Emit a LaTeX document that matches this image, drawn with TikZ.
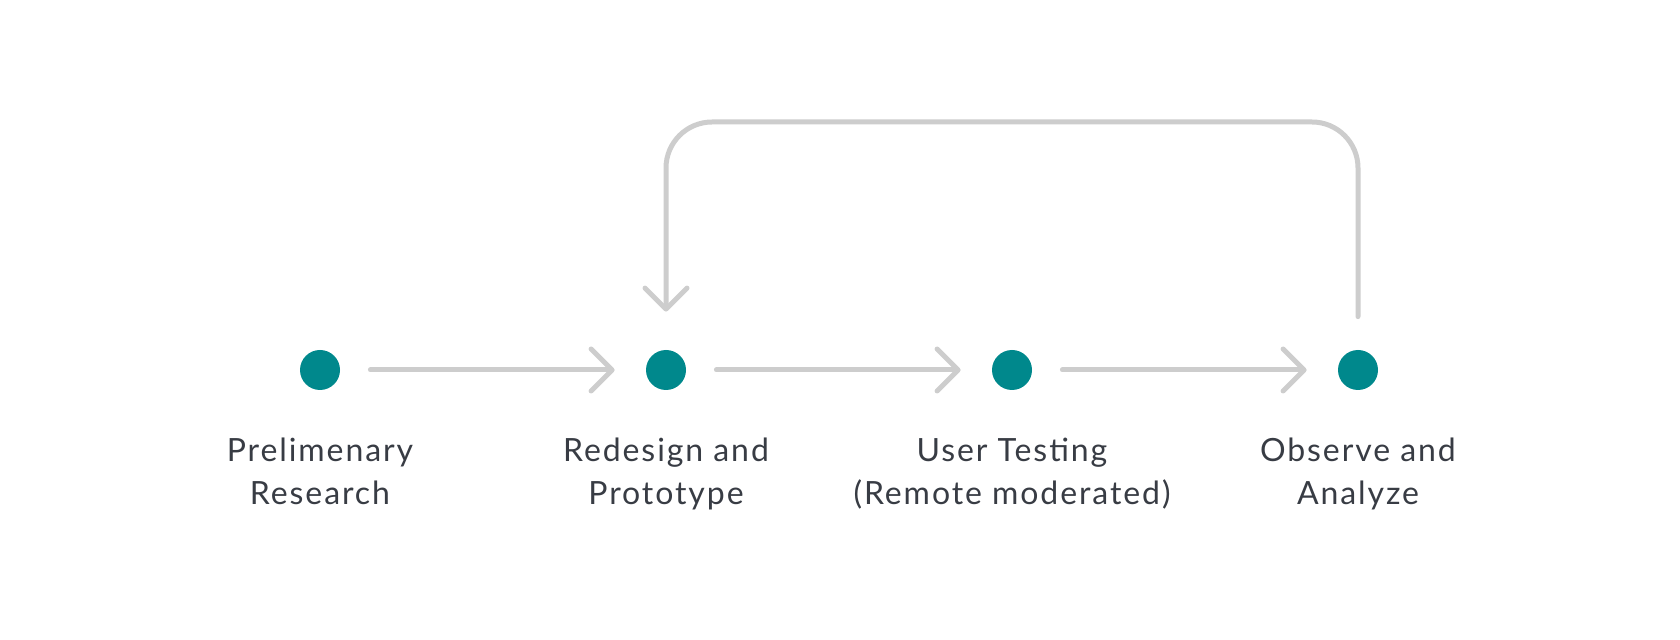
\documentclass[tikz,border=0pt]{standalone}
\usepackage{fontspec}
\setmainfont[LetterSpace=6]{Lato}
\definecolor{stepTeal}{RGB}{0,136,140}
\definecolor{flowGray}{RGB}{205,205,205}
\definecolor{labelGray}{RGB}{56,60,68}
\usetikzlibrary{arrows.meta}

\begin{document}
\begin{tikzpicture}[x=0.5pt,y=-0.5pt,
    stepdot/.style={circle,fill=stepTeal,minimum size=20pt,inner sep=0pt},
    steplabel/.style={anchor=base,align=center,text=labelGray,inner sep=0pt,
      font=\fontsize{16}{21.5}\selectfont},
    flow/.style={draw=flowGray,line width=2.5pt,line cap=round,line join=round,
      -{Straight Barb[length=10.5pt,width=21pt,line cap=round,line join=round]}}]
  \useasboundingbox (0,0) rectangle (1680,640);

  % Steps
  \node[stepdot] (prelim) at (320,370) {};
  \node[stepdot] (redesign) at (666,370) {};
  \node[stepdot] (testing) at (1012,370) {};
  \node[stepdot] (observe) at (1358,370) {};

  \node[steplabel] (prelimText) at (320,505) {Prelimenary\\Research};
  \node[steplabel] (redesignText) at (666,505) {Redesign and\\Prototype};
  \node[steplabel] (testingText) at (1012,505) {User Testing\\(Remote moderated)};
  \node[steplabel] (observeText) at (1358,505) {Observe and\\Analyze};

  % Arrows between steps
  \draw[flow] ([xshift=15pt]prelim.east) -- ([xshift=-15.5pt]redesign.west);
  \draw[flow] ([xshift=15pt]redesign.east) -- ([xshift=-15.5pt]testing.west);
  \draw[flow] ([xshift=15pt]testing.east) -- ([xshift=-15.5pt]observe.west);

  % Loop back
  \coordinate (loopTop) at (1012,122);
  \draw[flow,rounded corners=23pt] ([yshift=16.5pt]observe.north) |- (loopTop) -| ([yshift=19pt]redesign.north);
\end{tikzpicture}
\end{document}
